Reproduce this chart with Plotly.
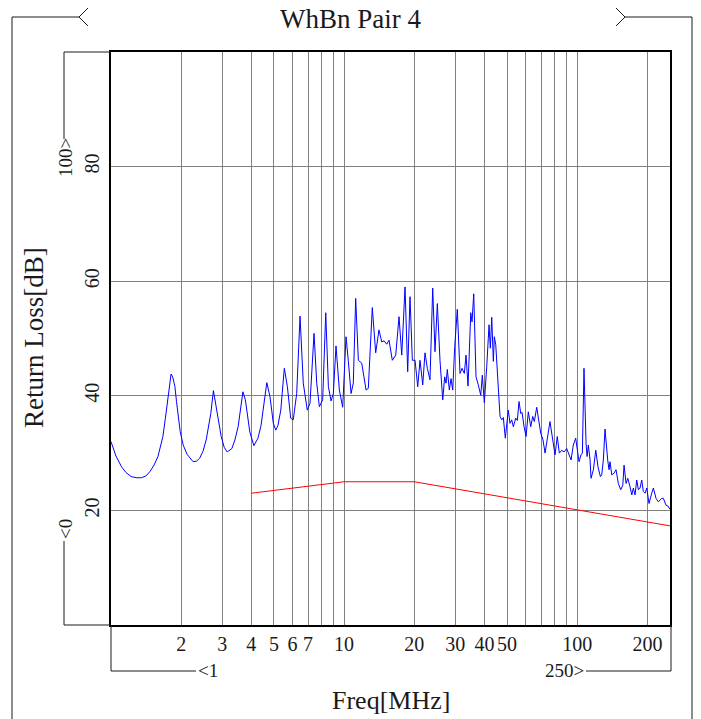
import plotly.graph_objects as go

# ---------------- data ----------------
freq_mhz = [
    1.00, 1.05, 1.11, 1.16, 1.22, 1.29, 1.35, 1.41, 1.47, 1.53, 1.59, 1.63, 1.67, 1.71,
    1.76, 1.79, 1.81, 1.84, 1.88, 1.91, 1.94, 1.98, 2.04, 2.12, 2.25, 2.33, 2.40, 2.48,
    2.56, 2.62, 2.68, 2.75, 2.83, 2.90, 2.97, 3.06, 3.15, 3.30, 3.40, 3.51, 3.60, 3.68,
    3.77, 3.85, 3.94, 4.10, 4.27, 4.40, 4.52, 4.66, 4.81, 4.97, 5.09, 5.20, 5.35, 5.54,
    5.71, 5.90, 6.05, 6.26, 6.47, 6.68, 6.95, 7.14, 7.43, 7.63, 7.83, 8.09, 8.34, 8.56,
    8.79, 8.99, 9.23, 9.54, 9.86, 10.19, 10.42, 10.71, 10.95, 11.21, 11.51, 11.90, 12.42,
    12.70, 13.21, 13.66, 14.11, 14.50, 14.84, 15.23, 15.58, 16.10, 16.65, 17.20, 17.67,
    18.25, 18.74, 19.17, 19.62, 20.15, 20.69, 21.16, 21.74, 22.23, 22.75, 23.36, 23.99,
    24.54, 25.11, 25.78, 26.49, 27.00, 27.36, 27.71, 28.27, 28.74, 29.24, 29.82, 30.59,
    31.42, 32.05, 32.79, 33.34, 34.01, 34.93, 35.38, 35.97, 36.80, 37.64, 38.55, 39.17,
    39.95, 40.91, 41.85, 42.39, 42.98, 43.67, 44.10, 44.72, 45.87, 46.65, 47.44, 48.19,
    49.15, 50.60, 51.48, 52.36, 53.20, 54.47, 55.34, 56.28, 57.24, 57.99, 59.15, 60.33,
    61.68, 63.17, 64.43, 65.46, 67.03, 68.38, 69.70, 71.30, 72.80, 76.40, 78.50, 80.30,
    82.10, 83.80, 85.80, 87.80, 90.10, 92.50, 94.10, 96.20, 98.50, 101.8, 103.8, 105.2,
    106.9, 109.1, 110.2, 111.6, 113.5, 114.6, 117.3, 120.1, 122.8, 125.7, 127.4, 129.4,
    131.6, 135.1, 136.9, 138.3, 140.6, 143.9, 146.7, 150.1, 153.7, 156.8, 158.8, 162.0,
    164.7, 168.5, 171.4, 174.1, 177.0, 180.0, 182.9, 186.0, 189.1, 192.1, 195.4, 198.7,
    203.2, 208.7, 212.1, 217.8, 222.8, 230.4, 234.1, 240.4, 244.4, 250.0,
]
return_loss_db = [
    32.0, 29.5, 27.6, 26.6, 25.9, 25.7, 25.7, 26.0, 26.8, 27.9, 29.4, 31.0, 32.9, 36.0,
    40.4, 42.8, 43.8, 43.3, 41.6, 39.0, 36.4, 33.8, 31.4, 29.8, 28.5, 28.6, 29.1, 30.3,
    32.3, 34.4, 36.9, 40.9, 38.1, 35.2, 32.9, 31.0, 30.2, 30.8, 32.3, 34.6, 37.5, 40.7,
    39.3, 36.2, 33.7, 31.3, 32.6, 34.8, 38.0, 42.3, 39.8, 35.2, 34.0, 34.8, 37.5, 44.8,
    41.6, 36.1, 35.8, 40.4, 53.9, 42.2, 37.5, 38.7, 50.9, 42.2, 38.1, 39.3, 54.5, 41.6,
    39.1, 40.4, 48.7, 41.0, 38.0, 50.3, 46.2, 40.4, 42.2, 57.0, 46.2, 45.7, 41.0,
    41.3, 55.4, 47.5, 51.5, 49.4, 49.6, 49.0, 49.7, 46.2, 47.1, 53.8, 47.1,
    59.0, 44.2, 57.3, 46.2, 46.2, 41.6, 46.2, 41.9, 47.5, 44.8, 42.8, 58.8,
    47.7, 56.1, 46.2, 39.3, 43.3, 42.2, 44.6, 41.0, 43.0, 41.0, 48.6, 55.1,
    43.9, 44.8, 43.9, 47.1, 41.7, 54.5, 52.9, 57.8, 43.3, 41.9, 40.1, 43.6,
    38.8, 45.1, 52.4, 48.3, 53.7, 46.0, 50.3, 48.9, 39.8, 36.4, 35.8, 36.2,
    32.6, 37.5, 35.2, 35.8, 34.6, 36.1, 35.7, 39.0, 36.9, 37.1, 34.6, 32.9,
    37.2, 34.6, 36.4, 35.5, 38.0, 35.5, 33.5, 32.3, 30.0, 35.5, 32.3, 29.7,
    32.9, 30.0, 30.5, 30.2, 30.8, 29.7, 28.8, 31.4, 32.6, 28.5, 29.7, 30.0,
    44.8, 31.7, 29.4, 31.4, 28.8, 25.6, 27.1, 30.5, 27.6, 25.9, 26.2, 28.8,
    34.2, 28.8, 27.1, 28.5, 26.2, 26.5, 27.1, 24.7, 23.6, 24.4, 27.9, 24.7,
    25.6, 24.1, 22.7, 23.9, 22.7, 25.3, 23.6, 23.9, 25.3, 23.3, 23.0, 23.9,
    21.2, 23.0, 23.9, 22.1, 21.5, 22.1, 22.1, 20.9, 20.8, 20.2,
]
limit_freq_mhz = [4, 10, 20, 250]
limit_db = [23.0, 25.0, 25.0, 17.3]

x_tick_vals = [2, 3, 4, 5, 6, 7, 8, 9, 10, 20, 30, 40, 50, 60, 70, 80, 90, 100, 200]
x_tick_text = ["2", "3", "4", "5", "6", "7", "", "", "10", "20", "30", "40", "50",
               "", "", "", "", "100", "200"]
y_tick_vals = [20, 40, 60, 80]
y_tick_text = ["20", "40", "60", "80"]

title_text = "WhBn Pair 4"
x_title = "Freq[MHz]"
y_title = "Return Loss[dB]"
x_min_label, x_max_label = "<1", "250>"
y_min_label, y_max_label = "<0", "100>"

# ---------------- layout geometry ----------------
W, H = 701, 719
L, R, T, B = 111, 670, 52, 625
FONT = "Liberation Serif"
INK = "#1a1a1a"


def xp(px):
    return (px - L) / (R - L)


def yp(py):
    return (B - py) / (B - T)


fig = go.Figure()
fig.add_trace(go.Scatter(x=freq_mhz, y=return_loss_db, mode="lines",
                         line=dict(color="#0000ff", width=1),
                         showlegend=False, hoverinfo="skip"))
fig.add_trace(go.Scatter(x=limit_freq_mhz, y=limit_db, mode="lines",
                         line=dict(color="#ff0000", width=1),
                         showlegend=False, hoverinfo="skip"))


def seg(x0, y0, x1, y1):
    return dict(type="line", xref="paper", yref="paper",
                x0=xp(x0), y0=yp(y0), x1=xp(x1), y1=yp(y1),
                line=dict(color=INK, width=1), layer="above")


shapes = [
    # outer frame bracket
    seg(12, 17, 12, 722), seg(12, 17, 79, 17),
    seg(88, 8, 79, 17), seg(79, 17, 88, 26),
    seg(625, 17, 692, 17), seg(692, 17, 692, 722),
    seg(616, 8, 625, 17), seg(625, 17, 616, 26),
    # y-range bracket
    seg(64, 52, 111, 52), seg(64, 52, 64, 139),
    seg(64, 541, 64, 625), seg(64, 625, 111, 625),
    # x-range bracket
    seg(111, 625, 111, 671), seg(111, 671, 196, 671),
    seg(586, 671, 671, 671), seg(671, 671, 671, 625),
]

annotations = [
    dict(text=y_title, x=xp(34), y=yp(338), textangle=-90,
         font=dict(family=FONT, size=27, color=INK)),
    dict(text=x_title, x=xp(390.5), y=yp(700),
         font=dict(family=FONT, size=26, color=INK)),
    dict(text=y_max_label, x=xp(65), y=yp(158), textangle=-90,
         font=dict(family=FONT, size=19, color=INK)),
    dict(text=y_min_label, x=xp(65), y=yp(529), textangle=-90,
         font=dict(family=FONT, size=19, color=INK)),
    dict(text=x_min_label, x=xp(196), y=yp(671), xanchor="left",
         font=dict(family=FONT, size=19, color=INK)),
    dict(text=x_max_label, x=xp(586), y=yp(671), xanchor="right",
         font=dict(family=FONT, size=19, color=INK)),
]
for a in annotations:
    a.update(xref="paper", yref="paper", showarrow=False)
    a.setdefault("xanchor", "center")
    a.setdefault("yanchor", "middle")

axis_common = dict(showgrid=True, gridcolor="#808080", gridwidth=1,
                   showline=True, linecolor="black", linewidth=2, mirror=True,
                   ticks="", zeroline=False,
                   tickfont=dict(family=FONT, size=20, color=INK))

fig.update_layout(
    width=W, height=H,
    margin=dict(l=L, r=W - R, t=T, b=H - B, autoexpand=False),
    paper_bgcolor="white", plot_bgcolor="white",
    showlegend=False,
    title=dict(text=title_text, x=0.5, xanchor="center",
               y=1 - 19 / H, yanchor="middle",
               font=dict(family=FONT, size=27, color=INK)),
    xaxis=dict(type="log", range=[0, 2.39794], tickmode="array",
               tickvals=x_tick_vals, ticktext=x_tick_text,
               ticklabelstandoff=0, **axis_common),
    yaxis=dict(range=[0, 100], tickmode="array",
               tickvals=y_tick_vals, ticktext=y_tick_text,
               tickangle=-90, ticklabelstandoff=2, **axis_common),
    shapes=shapes,
    annotations=annotations,
)

fig.write_html(
    "out.html",
    config={"displayModeBar": False},
    post_script="document.body.style.margin='0';document.body.style.overflow='hidden';",
)
